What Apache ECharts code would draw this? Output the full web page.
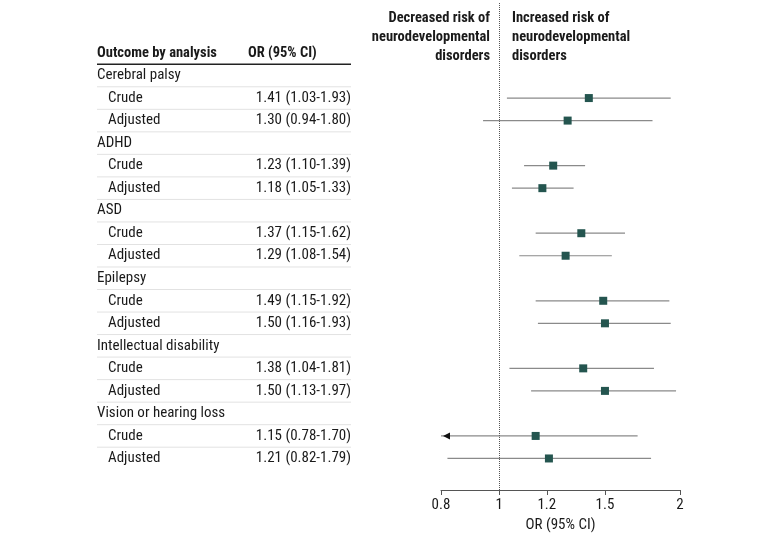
<!DOCTYPE html>
<html>
<head>
<meta charset="utf-8">
<script src="https://cdn.jsdelivr.net/npm/echarts@6/dist/echarts.min.js"></script>
<style>
html, body { margin: 0; background: #fff; }
#container { width: 780px; height: 544px; }
</style>
</head>
<body>
<div id="container"></div>
<script>
var outcomes = ['Cerebral palsy', 'ADHD', 'ASD', 'Epilepsy', 'Intellectual disability', 'Vision or hearing loss'];
var analyses = ['Crude', 'Adjusted'];
var orValues = [1.41, 1.30, 1.23, 1.18, 1.37, 1.29, 1.49, 1.50, 1.38, 1.50, 1.15, 1.21];
var lowerCI  = [1.03, 0.94, 1.10, 1.05, 1.15, 1.08, 1.15, 1.16, 1.04, 1.13, 0.78, 0.82];
var upperCI  = [1.93, 1.80, 1.39, 1.33, 1.62, 1.54, 1.92, 1.93, 1.81, 1.97, 1.70, 1.79];
var tickValues = [0.8, 1, 1.2, 1.5, 2];
var axisMin = 0.8, axisMax = 2;

var FONT = '"Roboto Condensed", Roboto, sans-serif';
var FS = '15px ';
var FSB = '14.5px ';
var log10 = function (v) { return Math.log(v) / Math.LN10; };

// table rows: header is row 0, then each outcome followed by its analyses
var tableRows = [];
var forestRows = [];
var y = 1;
outcomes.forEach(function (o, i) {
    tableRows.push({ y: y, label: o, sub: false, text: '' });
    y++;
    analyses.forEach(function (a, j) {
        var k = i * 2 + j;
        tableRows.push({
            y: y, label: a, sub: true,
            text: orValues[k].toFixed(2) + ' (' + lowerCI[k].toFixed(2) + '-' + upperCI[k].toFixed(2) + ')'
        });
        forestRows.push({ y: y, k: k });
        y++;
    });
});
var lastRow = y - 1;

var chart = echarts.init(document.getElementById('container'));

chart.setOption({
    animation: false,
    textStyle: { fontFamily: FONT },
    grid: [
        { left: 97, right: 429, top: 3, bottom: 54 },
        { left: 441, right: 100, top: 3, bottom: 54 }
    ],
    xAxis: [
        { gridIndex: 0, type: 'value', min: 0, max: 1, show: false },
        {
            gridIndex: 1, type: 'value', position: 'bottom',
            min: log10(axisMin), max: log10(axisMax),
            splitLine: { show: false },
            axisLine: { onZero: false, lineStyle: { color: '#555', width: 1 } },
            axisTick: {
                customValues: tickValues.map(log10), length: 5,
                lineStyle: { color: '#555' }
            },
            axisLabel: {
                customValues: tickValues.map(log10),
                color: '#1a1a1a', fontSize: 15, fontFamily: FONT, margin: 8,
                formatter: function (v) {
                    return String(Math.round(Math.pow(10, v) * 10) / 10);
                }
            },
            name: 'OR (95% CI)', nameLocation: 'middle', nameGap: 26,
            nameTextStyle: { color: '#1a1a1a', fontSize: 15, fontFamily: FONT }
        }
    ],
    yAxis: [
        { gridIndex: 0, type: 'value', inverse: true, min: -2.22, max: 19.4, show: false },
        { gridIndex: 1, type: 'value', inverse: true, min: -2.22, max: 19.4, show: false }
    ],
    graphic: [
        {
            type: 'text', x: 490, y: 9,
            style: {
                text: 'Decreased risk of\nneurodevelopmental\ndisorders',
                align: 'right', font: 'bold ' + FSB + FONT, lineHeight: 19, fill: '#1a1a1a'
            }
        },
        {
            type: 'text', x: 512, y: 9,
            style: {
                text: 'Increased risk of\nneurodevelopmental\ndisorders',
                align: 'left', font: 'bold ' + FSB + FONT, lineHeight: 19, fill: '#1a1a1a'
            }
        }
    ],
    series: [
        {
            // table header
            type: 'custom', xAxisIndex: 0, yAxisIndex: 0,
            data: [[0, 0]],
            renderItem: function (params, api) {
                var p0 = api.coord([0, 0]);
                var p1 = api.coord([1, 0]);
                var pm = api.coord([0.594, 0]);
                var pl = api.coord([0, 0.5]);
                return {
                    type: 'group',
                    children: [
                        { type: 'text', style: { text: 'Outcome by analysis', x: p0[0], y: p0[1], align: 'left', verticalAlign: 'middle', font: 'bold ' + FSB + FONT, fill: '#1a1a1a' } },
                        { type: 'text', style: { text: 'OR (95% CI)', x: pm[0], y: pm[1], align: 'left', verticalAlign: 'middle', font: 'bold ' + FSB + FONT, fill: '#1a1a1a' } },
                        { type: 'line', shape: { x1: pl[0], y1: pl[1], x2: p1[0], y2: pl[1] }, style: { stroke: '#222', lineWidth: 1.5 } }
                    ]
                };
            }
        },
        {
            // table body
            type: 'custom', xAxisIndex: 0, yAxisIndex: 0,
            data: tableRows.map(function (r, i) { return [0, r.y, i]; }),
            renderItem: function (params, api) {
                var r = tableRows[api.value(2)];
                var p0 = api.coord([0, r.y]);
                var p1 = api.coord([1, r.y]);
                var children = [
                    { type: 'text', style: { text: r.label, x: p0[0] + (r.sub ? 11 : 0), y: p0[1], align: 'left', verticalAlign: 'middle', font: FS + FONT, fill: '#1a1a1a' } }
                ];
                if (r.text) {
                    children.push({ type: 'text', style: { text: r.text, x: p1[0], y: p1[1], align: 'right', verticalAlign: 'middle', font: FS + FONT, fill: '#1a1a1a' } });
                }
                if (r.y < lastRow) {
                    var s0 = api.coord([0, r.y + 0.5]);
                    var s1 = api.coord([1, r.y + 0.5]);
                    children.push({ type: 'line', shape: { x1: s0[0], y1: s0[1], x2: s1[0], y2: s1[1] }, style: { stroke: '#e2e2e2', lineWidth: 1 } });
                }
                return { type: 'group', children: children };
            }
        },
        {
            // confidence intervals
            type: 'custom', xAxisIndex: 1, yAxisIndex: 1,
            data: forestRows.map(function (r) { return [log10(lowerCI[r.k]), r.y, log10(upperCI[r.k])]; }),
            renderItem: function (params, api) {
                var lo = api.value(0), yy = api.value(1), hi = api.value(2);
                var clipped = lo < log10(axisMin);
                var a = api.coord([clipped ? log10(axisMin) : lo, yy]);
                var b = api.coord([hi, yy]);
                var children = [
                    { type: 'line', shape: { x1: a[0], y1: a[1], x2: b[0], y2: b[1] }, style: { stroke: '#8a8a8a', lineWidth: 1.2 } }
                ];
                if (clipped) {
                    children.push({
                        type: 'polygon',
                        shape: { points: [[a[0] + 2, a[1]], [a[0] + 9, a[1] - 3.5], [a[0] + 9, a[1] + 3.5]] },
                        style: { fill: '#111' }
                    });
                }
                return { type: 'group', children: children };
            },
            z: 2
        },
        {
            type: 'scatter', xAxisIndex: 1, yAxisIndex: 1,
            symbol: 'rect', symbolSize: 8,
            itemStyle: { color: '#24554f', opacity: 1 },
            data: forestRows.map(function (r) { return [log10(orValues[r.k]), r.y]; }),
            z: 3,
            markLine: {
                silent: true, symbol: 'none',
                label: { show: false },
                lineStyle: { type: 'dotted', color: '#555', width: 1 },
                data: [{ xAxis: 0 }]
            }
        }
    ]
});
</script>
</body>
</html>
